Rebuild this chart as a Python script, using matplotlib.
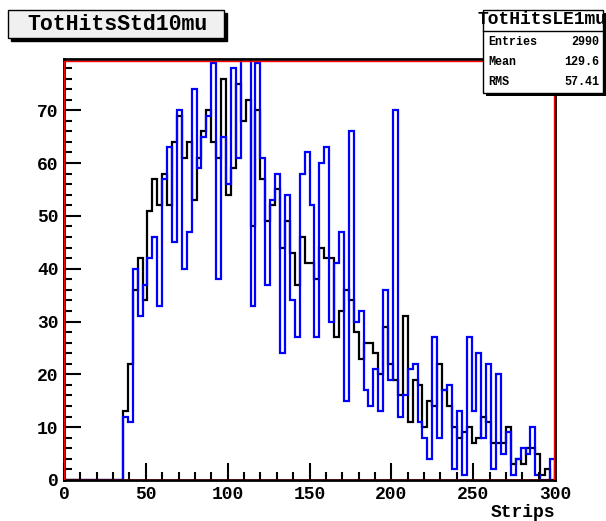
import matplotlib
matplotlib.use("Agg")
import matplotlib.pyplot as plt
from matplotlib.patches import Rectangle
from matplotlib.ticker import MultipleLocator
import numpy as np

# histogram contents, 100 bins of 3 strips from 0 to 300
std10mu = [0, 0, 0, 0, 0, 0, 0, 0, 0, 0,
           0, 0, 13, 22, 36, 42, 34, 51, 57, 52,
           58, 52, 64, 69, 61, 64, 53, 61, 66, 70,
           64, 61, 76, 54, 59, 75, 68, 72, 48, 70,
           57, 49, 52, 55, 44, 49, 43, 37, 46, 41,
           41, 38, 44, 42, 42, 27, 32, 36, 34, 28,
           23, 26, 26, 24, 20, 29, 22, 19, 16, 31,
           11, 19, 18, 10, 15, 14, 22, 17, 14, 10,
           8, 9, 10, 7, 8, 12, 11, 7, 7, 7,
           10, 3, 4, 3, 6, 6, 5, 1, 2, 0]

le1mu = [0, 0, 0, 0, 0, 0, 0, 0, 0, 0,
         0, 0, 12, 11, 40, 31, 37, 42, 46, 33,
         57, 63, 45, 70, 40, 47, 74, 59, 65, 69,
         79, 38, 65, 56, 78, 61, 84, 82, 33, 79,
         61, 37, 53, 58, 24, 54, 34, 27, 58, 62,
         52, 27, 60, 63, 30, 41, 47, 15, 66, 30,
         32, 17, 14, 21, 13, 36, 19, 70, 12, 16,
         21, 22, 11, 8, 4, 27, 8, 17, 18, 2,
         13, 1, 27, 13, 24, 8, 22, 2, 20, 5,
         9, 1, 4, 6, 5, 10, 1, 0, 0, 4]

xlo, xhi, nbins = 0, 300, 100
ymax = 79.7

W, H = 606, 521
fig = plt.figure(figsize=(W / 100, H / 100), dpi=100)
fig.patch.set_facecolor("white")

def fx(px):
    return px / W

def fy(py):
    return 1 - py / H

ax = fig.add_axes([fx(64), fy(480), fx(555) - fx(64), fy(59) - fy(480)])
edges = np.linspace(xlo, xhi, nbins + 1)
ax.stairs(std10mu, edges, color="black", linewidth=1.6)
ax.stairs(le1mu, edges, color="#0000ff", linewidth=1.6)
ax.set_xlim(xlo, xhi)
ax.set_ylim(0, ymax)

# root style frame: black axes with red frame line just inside
for s in ax.spines.values():
    s.set_color("black")
    s.set_linewidth(2.0)
ax.add_patch(Rectangle((0.001, 0.001), 0.997, 0.994, transform=ax.transAxes,
                       fill=False, edgecolor="red", linewidth=1.0, zorder=5))

tickfont = dict(family="Liberation Mono", weight="bold", size=13)
ax.xaxis.set_major_locator(MultipleLocator(50))
ax.xaxis.set_minor_locator(MultipleLocator(10))
ax.yaxis.set_major_locator(MultipleLocator(10))
ax.yaxis.set_minor_locator(MultipleLocator(2))
ax.tick_params(which="both", direction="in", top=False, right=False, width=1.5, color="black")
ax.tick_params(which="major", length=12)
ax.tick_params(which="minor", length=6)
ax.tick_params(axis="x", pad=4)
ax.tick_params(axis="y", pad=4)
for lab in ax.get_xticklabels() + ax.get_yticklabels():
    lab.set_fontfamily("Liberation Mono")
    lab.set_fontweight("bold")
    lab.set_fontsize(13)
ax.set_xlabel("Strips", fontdict=tickfont, loc="right", labelpad=1)

# title box with shadow
fig.patches.append(Rectangle((fx(11), fy(41)), fx(216), fy(10) - fy(38), transform=fig.transFigure,
                             facecolor="black", edgecolor="black", zorder=1))
fig.patches.append(Rectangle((fx(8), fy(38)), fx(216), fy(10) - fy(38), transform=fig.transFigure,
                             facecolor="#f0f0f0", edgecolor="black", linewidth=1, zorder=2))
fig.text(fx(117), fy(24), "TotHitsStd10mu", ha="center", va="center",
         family="Liberation Mono", weight="bold", size=15.5, zorder=3)

# stats box with shadow
bx0, by0, bx1, by1 = 483, 10, 603, 93
fig.patches.append(Rectangle((fx(bx0 + 3), fy(by1 + 3)), fx(bx1 - bx0), fy(by0) - fy(by1),
                             transform=fig.transFigure, facecolor="black", zorder=1))
fig.patches.append(Rectangle((fx(bx0), fy(by1)), fx(bx1 - bx0), fy(by0) - fy(by1),
                             transform=fig.transFigure, facecolor="white", edgecolor="black",
                             linewidth=1, zorder=2))
fig.lines.append(plt.Line2D([fx(bx0), fx(bx1)], [fy(31), fy(31)], transform=fig.transFigure,
                            color="black", linewidth=1, zorder=3))
fig.text(fx(542), fy(20), "TotHitsLE1mu", ha="center", va="center",
         family="Liberation Mono", weight="bold", size=13, zorder=4)
stat_names = ["Entries", "Mean", "RMS"]
stat_vals = ["2990", "129.6", "57.41"]
for i, (n, v) in enumerate(zip(stat_names, stat_vals)):
    yy = 42 + i * 20
    fig.text(fx(488), fy(yy), n, ha="left", va="center",
             family="Liberation Mono", weight="bold", size=8.5, zorder=4)
    fig.text(fx(599), fy(yy), v, ha="right", va="center",
             family="Liberation Mono", weight="bold", size=8.5, zorder=4)

fig.savefig("out.png", dpi=100)
